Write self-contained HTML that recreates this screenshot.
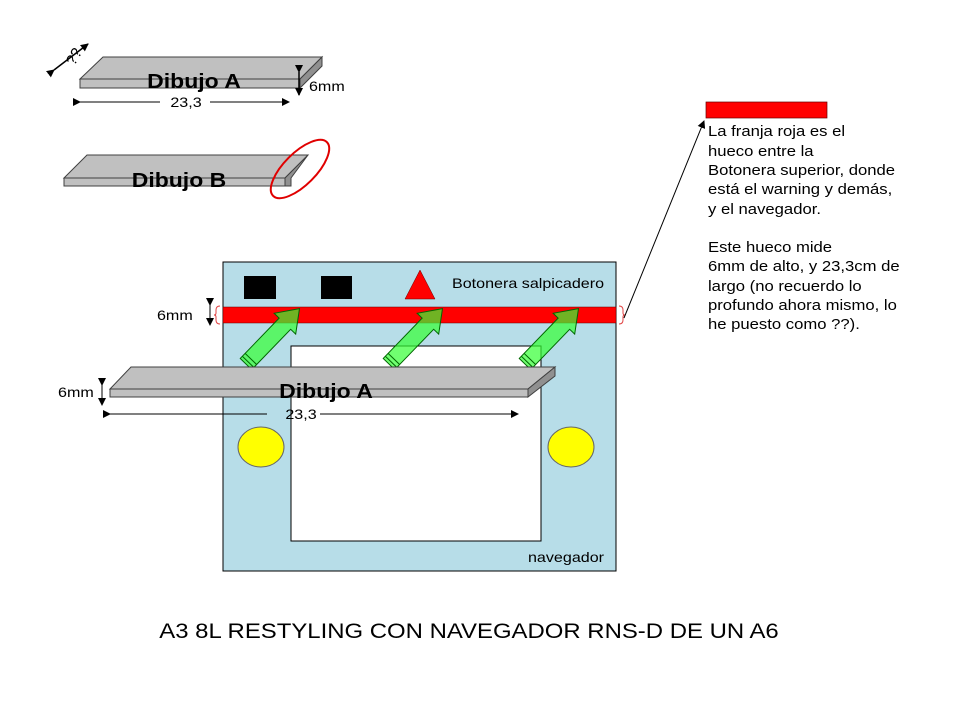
<!DOCTYPE html>
<html><head><meta charset="utf-8"><style>
body{margin:0;background:#fff;}
svg{display:block;font-family:"Liberation Sans",Arial,sans-serif;}
.sl{transform-box:fill-box;transform-origin:left center;transform:scaleX(1.15);}
.sc{transform-box:fill-box;transform-origin:center center;transform:scaleX(1.15);}
</style></head><body>
<svg width="960" height="720" viewBox="0 0 960 720" xmlns="http://www.w3.org/2000/svg">
<defs>
<marker id="ah" markerWidth="8" markerHeight="8" refX="7" refY="4" orient="auto" markerUnits="userSpaceOnUse"><path d="M0,0 L8,4 L0,8 Z" fill="#000"/></marker>
</defs>

<!-- Plate A top -->
<polygon points="80,79 103,57 322,57 300,79" fill="#c0c0c0" stroke="#404040" stroke-width="1"/>
<polygon points="80,79 300,79 300,88 80,88" fill="#c0c0c0" stroke="#404040" stroke-width="1"/>
<polygon points="300,79 322,57 322,66 300,88" fill="#909090" stroke="#404040" stroke-width="1"/>
<text class="sc" x="194" y="88" font-size="20" font-weight="bold" text-anchor="middle">Dibujo A</text>
<line x1="54" y1="70" x2="88" y2="44" stroke="#000" stroke-width="1.5" marker-end="url(#ah)" marker-start="url(#ah)"/>
<text x="66" y="64" font-size="15" transform="rotate(-60 72 58)">??</text>
<line x1="299" y1="72" x2="299" y2="95" stroke="#000" stroke-width="1.5" marker-end="url(#ah)" marker-start="url(#ah)"/>
<text class="sl" x="309" y="91" font-size="14">6mm</text>
<line x1="80" y1="102" x2="160" y2="102" stroke="#000" marker-start="url(#ah)"/>
<line x1="210" y1="102" x2="289" y2="102" stroke="#000" marker-end="url(#ah)"/>
<text class="sc" x="186" y="107" font-size="14" text-anchor="middle">23,3</text>

<!-- Plate B -->
<polygon points="64,178 87,155 308,155 285,178" fill="#c0c0c0" stroke="#404040"/>
<polygon points="64,178 285,178 285,186 64,186" fill="#c0c0c0" stroke="#404040"/>
<polygon points="285,178 308,155 291,178 291,186 285,186" fill="#909090" stroke="#404040"/>
<text class="sc" x="179" y="187" font-size="20" font-weight="bold" text-anchor="middle">Dibujo B</text>
<ellipse cx="300" cy="169" rx="38" ry="16" transform="rotate(-45 300 169)" fill="none" stroke="#e00000" stroke-width="2"/>

<!-- Panel -->
<rect x="223" y="262" width="393" height="309" fill="#b7dde8" stroke="#000"/>
<rect x="291" y="346" width="250" height="195" fill="#fff" stroke="#000"/>
<rect x="244" y="276" width="32" height="23" fill="#000"/>
<rect x="321" y="276" width="31" height="23" fill="#000"/>
<polygon points="405,299 420,270 435,299" fill="#ff0000" stroke="#600" stroke-width="0.5"/>
<text class="sl" x="452" y="288" font-size="14">Botonera salpicadero</text>
<rect x="223" y="307" width="393" height="16" fill="#ff0000" stroke="#600" stroke-width="0.5"/>
<ellipse cx="261" cy="447" rx="23" ry="20" fill="#ffff00" stroke="#666"/>
<ellipse cx="571" cy="447" rx="23" ry="20" fill="#ffff00" stroke="#666"/>
<text class="sl" x="528" y="562" font-size="14">navegador</text>
<text class="sl" x="157" y="320" font-size="14">6mm</text>
<line x1="210" y1="305" x2="210" y2="325" stroke="#000" marker-end="url(#ah)" marker-start="url(#ah)"/>
<path d="M220,306 q-4,0 -4,4 v3 q0,2 -2,2 q2,0 2,2 v3 q0,4 4,4" fill="none" stroke="#e04040"/>
<path d="M619,306 q4,0 4,4 v3 q0,2 2,2 q-2,0 -2,2 v3 q0,4 -4,4" fill="none" stroke="#e04040"/>

<!-- green arrows -->
<g fill="#33ff33" fill-opacity="0.7" stroke="#006600" stroke-width="1">
<g transform="translate(246,364) rotate(-46)"><polygon points="0,-8 56,-8 56,-15 77,0 56,15 56,8 0,8"/><line x1="3" y1="-8" x2="3" y2="8"/><line x1="7" y1="-8" x2="7" y2="8"/></g>
<g transform="translate(389,364) rotate(-46)"><polygon points="0,-8 56,-8 56,-15 77,0 56,15 56,8 0,8"/><line x1="3" y1="-8" x2="3" y2="8"/><line x1="7" y1="-8" x2="7" y2="8"/></g>
<g transform="translate(525,364) rotate(-46)"><polygon points="0,-8 56,-8 56,-15 77,0 56,15 56,8 0,8"/><line x1="3" y1="-8" x2="3" y2="8"/><line x1="7" y1="-8" x2="7" y2="8"/></g>
</g>

<!-- big plate -->
<polygon points="110,389 131,367 555,367 528,389" fill="#c0c0c0" stroke="#404040"/>
<polygon points="110,389 528,389 528,397 110,397" fill="#c0c0c0" stroke="#404040"/>
<polygon points="528,389 555,367 555,376 528,397" fill="#909090" stroke="#404040"/>
<text class="sc" x="326" y="398" font-size="20" font-weight="bold" text-anchor="middle">Dibujo A</text>
<text class="sl" x="58" y="397" font-size="14">6mm</text>
<line x1="102" y1="385" x2="102" y2="405" stroke="#000" marker-end="url(#ah)" marker-start="url(#ah)"/>
<line x1="110" y1="414" x2="267" y2="414" stroke="#000" marker-start="url(#ah)"/>
<line x1="320" y1="414" x2="518" y2="414" stroke="#000" marker-end="url(#ah)"/>
<text class="sc" x="301" y="419" font-size="14" text-anchor="middle">23,3</text>

<!-- note -->
<rect x="706" y="102" width="121" height="16" fill="#ff0000" stroke="#600" stroke-width="0.7"/>
<line x1="624" y1="318" x2="704" y2="121" stroke="#000" marker-end="url(#ah)"/>
<g font-size="14.5">
<text class="sl" x="708" y="136">La franja roja es el</text>
<text class="sl" x="708" y="156">hueco entre la</text>
<text class="sl" x="708" y="175">Botonera superior, donde</text>
<text class="sl" x="708" y="194">está el warning y demás,</text>
<text class="sl" x="708" y="214">y el navegador.</text>
<text class="sl" x="708" y="252">Este hueco mide</text>
<text class="sl" x="708" y="271">6mm de alto, y 23,3cm de</text>
<text class="sl" x="708" y="291">largo (no recuerdo lo</text>
<text class="sl" x="708" y="310">profundo ahora mismo, lo</text>
<text class="sl" x="708" y="329">he puesto como ??).</text>
</g>

<text x="469" y="638" font-size="21" text-anchor="middle" style="transform-box:fill-box;transform-origin:center;transform:scaleX(1.14)">A3 8L RESTYLING CON NAVEGADOR RNS-D DE UN A6</text>
</svg>
</body></html>
